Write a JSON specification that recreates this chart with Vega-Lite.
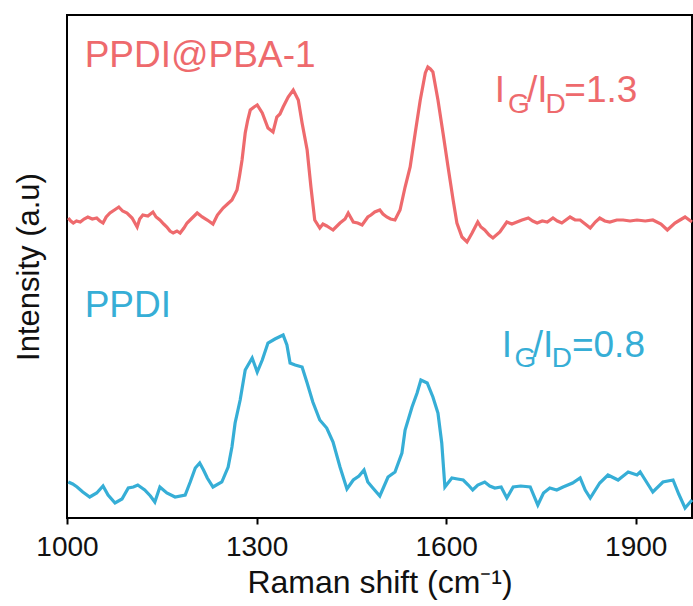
{
  "$schema": "https://vega.github.io/schema/vega-lite/v6.json",
  "width": 625,
  "height": 503,
  "autosize": {"type": "none"},
  "padding": {"left": 67, "top": 15, "right": 1, "bottom": 88},
  "config": {
    "view": {"stroke": "black", "strokeWidth": 2},
    "font": "Liberation Sans"
  },
  "datasets": {
    "spectra": [
      {"sample": "PPDI@PBA-1", "shift": 1002, "intensity": 300},
      {"sample": "PPDI@PBA-1", "shift": 1006, "intensity": 297},
      {"sample": "PPDI@PBA-1", "shift": 1010, "intensity": 295},
      {"sample": "PPDI@PBA-1", "shift": 1015, "intensity": 297},
      {"sample": "PPDI@PBA-1", "shift": 1021, "intensity": 296},
      {"sample": "PPDI@PBA-1", "shift": 1027, "intensity": 299},
      {"sample": "PPDI@PBA-1", "shift": 1033, "intensity": 301},
      {"sample": "PPDI@PBA-1", "shift": 1040, "intensity": 299},
      {"sample": "PPDI@PBA-1", "shift": 1047, "intensity": 300},
      {"sample": "PPDI@PBA-1", "shift": 1052, "intensity": 297},
      {"sample": "PPDI@PBA-1", "shift": 1057, "intensity": 295},
      {"sample": "PPDI@PBA-1", "shift": 1062, "intensity": 301},
      {"sample": "PPDI@PBA-1", "shift": 1068, "intensity": 305},
      {"sample": "PPDI@PBA-1", "shift": 1075, "intensity": 308},
      {"sample": "PPDI@PBA-1", "shift": 1082, "intensity": 311},
      {"sample": "PPDI@PBA-1", "shift": 1088, "intensity": 307},
      {"sample": "PPDI@PBA-1", "shift": 1095, "intensity": 305},
      {"sample": "PPDI@PBA-1", "shift": 1103, "intensity": 300},
      {"sample": "PPDI@PBA-1", "shift": 1111, "intensity": 291},
      {"sample": "PPDI@PBA-1", "shift": 1115, "intensity": 299},
      {"sample": "PPDI@PBA-1", "shift": 1120, "intensity": 303},
      {"sample": "PPDI@PBA-1", "shift": 1128, "intensity": 302},
      {"sample": "PPDI@PBA-1", "shift": 1136, "intensity": 306},
      {"sample": "PPDI@PBA-1", "shift": 1141, "intensity": 301},
      {"sample": "PPDI@PBA-1", "shift": 1147, "intensity": 298},
      {"sample": "PPDI@PBA-1", "shift": 1153, "intensity": 294},
      {"sample": "PPDI@PBA-1", "shift": 1158, "intensity": 291},
      {"sample": "PPDI@PBA-1", "shift": 1163, "intensity": 287},
      {"sample": "PPDI@PBA-1", "shift": 1168, "intensity": 285},
      {"sample": "PPDI@PBA-1", "shift": 1174, "intensity": 287},
      {"sample": "PPDI@PBA-1", "shift": 1179, "intensity": 285},
      {"sample": "PPDI@PBA-1", "shift": 1185, "intensity": 290},
      {"sample": "PPDI@PBA-1", "shift": 1190, "intensity": 295},
      {"sample": "PPDI@PBA-1", "shift": 1198, "intensity": 300},
      {"sample": "PPDI@PBA-1", "shift": 1206, "intensity": 305},
      {"sample": "PPDI@PBA-1", "shift": 1214, "intensity": 301},
      {"sample": "PPDI@PBA-1", "shift": 1222, "intensity": 298},
      {"sample": "PPDI@PBA-1", "shift": 1231, "intensity": 294},
      {"sample": "PPDI@PBA-1", "shift": 1238, "intensity": 303},
      {"sample": "PPDI@PBA-1", "shift": 1247, "intensity": 310},
      {"sample": "PPDI@PBA-1", "shift": 1254, "intensity": 314},
      {"sample": "PPDI@PBA-1", "shift": 1261, "intensity": 318},
      {"sample": "PPDI@PBA-1", "shift": 1269, "intensity": 328},
      {"sample": "PPDI@PBA-1", "shift": 1273, "intensity": 342},
      {"sample": "PPDI@PBA-1", "shift": 1277, "intensity": 358},
      {"sample": "PPDI@PBA-1", "shift": 1282, "intensity": 385},
      {"sample": "PPDI@PBA-1", "shift": 1286, "intensity": 398},
      {"sample": "PPDI@PBA-1", "shift": 1290, "intensity": 408},
      {"sample": "PPDI@PBA-1", "shift": 1296, "intensity": 411},
      {"sample": "PPDI@PBA-1", "shift": 1301, "intensity": 413},
      {"sample": "PPDI@PBA-1", "shift": 1309, "intensity": 405},
      {"sample": "PPDI@PBA-1", "shift": 1318, "intensity": 390},
      {"sample": "PPDI@PBA-1", "shift": 1326, "intensity": 386},
      {"sample": "PPDI@PBA-1", "shift": 1332, "intensity": 401},
      {"sample": "PPDI@PBA-1", "shift": 1337, "intensity": 404},
      {"sample": "PPDI@PBA-1", "shift": 1342, "intensity": 411},
      {"sample": "PPDI@PBA-1", "shift": 1350, "intensity": 421},
      {"sample": "PPDI@PBA-1", "shift": 1358, "intensity": 428},
      {"sample": "PPDI@PBA-1", "shift": 1366, "intensity": 418},
      {"sample": "PPDI@PBA-1", "shift": 1372, "intensity": 395},
      {"sample": "PPDI@PBA-1", "shift": 1380, "intensity": 368},
      {"sample": "PPDI@PBA-1", "shift": 1386, "intensity": 331},
      {"sample": "PPDI@PBA-1", "shift": 1392, "intensity": 298},
      {"sample": "PPDI@PBA-1", "shift": 1400, "intensity": 290},
      {"sample": "PPDI@PBA-1", "shift": 1405, "intensity": 294},
      {"sample": "PPDI@PBA-1", "shift": 1411, "intensity": 292},
      {"sample": "PPDI@PBA-1", "shift": 1416, "intensity": 290},
      {"sample": "PPDI@PBA-1", "shift": 1421, "intensity": 288},
      {"sample": "PPDI@PBA-1", "shift": 1432, "intensity": 295},
      {"sample": "PPDI@PBA-1", "shift": 1440, "intensity": 299},
      {"sample": "PPDI@PBA-1", "shift": 1445, "intensity": 305},
      {"sample": "PPDI@PBA-1", "shift": 1453, "intensity": 296},
      {"sample": "PPDI@PBA-1", "shift": 1460, "intensity": 295},
      {"sample": "PPDI@PBA-1", "shift": 1467, "intensity": 293},
      {"sample": "PPDI@PBA-1", "shift": 1476, "intensity": 301},
      {"sample": "PPDI@PBA-1", "shift": 1481, "intensity": 303},
      {"sample": "PPDI@PBA-1", "shift": 1487, "intensity": 306},
      {"sample": "PPDI@PBA-1", "shift": 1495, "intensity": 308},
      {"sample": "PPDI@PBA-1", "shift": 1500, "intensity": 304},
      {"sample": "PPDI@PBA-1", "shift": 1506, "intensity": 301},
      {"sample": "PPDI@PBA-1", "shift": 1512, "intensity": 299},
      {"sample": "PPDI@PBA-1", "shift": 1519, "intensity": 298},
      {"sample": "PPDI@PBA-1", "shift": 1527, "intensity": 308},
      {"sample": "PPDI@PBA-1", "shift": 1535, "intensity": 331},
      {"sample": "PPDI@PBA-1", "shift": 1543, "intensity": 351},
      {"sample": "PPDI@PBA-1", "shift": 1551, "intensity": 385},
      {"sample": "PPDI@PBA-1", "shift": 1559, "intensity": 418},
      {"sample": "PPDI@PBA-1", "shift": 1567, "intensity": 445},
      {"sample": "PPDI@PBA-1", "shift": 1571, "intensity": 451},
      {"sample": "PPDI@PBA-1", "shift": 1575, "intensity": 449},
      {"sample": "PPDI@PBA-1", "shift": 1579, "intensity": 446},
      {"sample": "PPDI@PBA-1", "shift": 1587, "intensity": 418},
      {"sample": "PPDI@PBA-1", "shift": 1595, "intensity": 385},
      {"sample": "PPDI@PBA-1", "shift": 1603, "intensity": 351},
      {"sample": "PPDI@PBA-1", "shift": 1611, "intensity": 318},
      {"sample": "PPDI@PBA-1", "shift": 1617, "intensity": 295},
      {"sample": "PPDI@PBA-1", "shift": 1625, "intensity": 281},
      {"sample": "PPDI@PBA-1", "shift": 1633, "intensity": 276},
      {"sample": "PPDI@PBA-1", "shift": 1641, "intensity": 285},
      {"sample": "PPDI@PBA-1", "shift": 1650, "intensity": 296},
      {"sample": "PPDI@PBA-1", "shift": 1655, "intensity": 291},
      {"sample": "PPDI@PBA-1", "shift": 1661, "intensity": 288},
      {"sample": "PPDI@PBA-1", "shift": 1668, "intensity": 283},
      {"sample": "PPDI@PBA-1", "shift": 1674, "intensity": 280},
      {"sample": "PPDI@PBA-1", "shift": 1685, "intensity": 286},
      {"sample": "PPDI@PBA-1", "shift": 1696, "intensity": 296},
      {"sample": "PPDI@PBA-1", "shift": 1704, "intensity": 294},
      {"sample": "PPDI@PBA-1", "shift": 1712, "intensity": 296},
      {"sample": "PPDI@PBA-1", "shift": 1720, "intensity": 298},
      {"sample": "PPDI@PBA-1", "shift": 1730, "intensity": 300},
      {"sample": "PPDI@PBA-1", "shift": 1737, "intensity": 297},
      {"sample": "PPDI@PBA-1", "shift": 1744, "intensity": 295},
      {"sample": "PPDI@PBA-1", "shift": 1752, "intensity": 297},
      {"sample": "PPDI@PBA-1", "shift": 1760, "intensity": 296},
      {"sample": "PPDI@PBA-1", "shift": 1769, "intensity": 300},
      {"sample": "PPDI@PBA-1", "shift": 1776, "intensity": 297},
      {"sample": "PPDI@PBA-1", "shift": 1783, "intensity": 295},
      {"sample": "PPDI@PBA-1", "shift": 1796, "intensity": 301},
      {"sample": "PPDI@PBA-1", "shift": 1804, "intensity": 298},
      {"sample": "PPDI@PBA-1", "shift": 1812, "intensity": 298},
      {"sample": "PPDI@PBA-1", "shift": 1820, "intensity": 294},
      {"sample": "PPDI@PBA-1", "shift": 1828, "intensity": 290},
      {"sample": "PPDI@PBA-1", "shift": 1836, "intensity": 296},
      {"sample": "PPDI@PBA-1", "shift": 1843, "intensity": 300},
      {"sample": "PPDI@PBA-1", "shift": 1851, "intensity": 297},
      {"sample": "PPDI@PBA-1", "shift": 1859, "intensity": 296},
      {"sample": "PPDI@PBA-1", "shift": 1870, "intensity": 298},
      {"sample": "PPDI@PBA-1", "shift": 1880, "intensity": 298},
      {"sample": "PPDI@PBA-1", "shift": 1891, "intensity": 297},
      {"sample": "PPDI@PBA-1", "shift": 1902, "intensity": 298},
      {"sample": "PPDI@PBA-1", "shift": 1915, "intensity": 297},
      {"sample": "PPDI@PBA-1", "shift": 1927, "intensity": 298},
      {"sample": "PPDI@PBA-1", "shift": 1940, "intensity": 294},
      {"sample": "PPDI@PBA-1", "shift": 1950, "intensity": 288},
      {"sample": "PPDI@PBA-1", "shift": 1962, "intensity": 295},
      {"sample": "PPDI@PBA-1", "shift": 1970, "intensity": 298},
      {"sample": "PPDI@PBA-1", "shift": 1978, "intensity": 301},
      {"sample": "PPDI@PBA-1", "shift": 1989, "intensity": 296},

      {"sample": "PPDI", "shift": 1002, "intensity": 36},
      {"sample": "PPDI", "shift": 1009, "intensity": 34},
      {"sample": "PPDI", "shift": 1016, "intensity": 31},
      {"sample": "PPDI", "shift": 1025, "intensity": 26},
      {"sample": "PPDI", "shift": 1036, "intensity": 21},
      {"sample": "PPDI", "shift": 1047, "intensity": 25},
      {"sample": "PPDI", "shift": 1057, "intensity": 32},
      {"sample": "PPDI", "shift": 1065, "intensity": 23},
      {"sample": "PPDI", "shift": 1076, "intensity": 15},
      {"sample": "PPDI", "shift": 1087, "intensity": 19},
      {"sample": "PPDI", "shift": 1097, "intensity": 30},
      {"sample": "PPDI", "shift": 1105, "intensity": 31},
      {"sample": "PPDI", "shift": 1112, "intensity": 33},
      {"sample": "PPDI", "shift": 1123, "intensity": 28},
      {"sample": "PPDI", "shift": 1132, "intensity": 22},
      {"sample": "PPDI", "shift": 1139, "intensity": 16},
      {"sample": "PPDI", "shift": 1147, "intensity": 31},
      {"sample": "PPDI", "shift": 1158, "intensity": 25},
      {"sample": "PPDI", "shift": 1171, "intensity": 21},
      {"sample": "PPDI", "shift": 1187, "intensity": 23},
      {"sample": "PPDI", "shift": 1195, "intensity": 36},
      {"sample": "PPDI", "shift": 1203, "intensity": 50},
      {"sample": "PPDI", "shift": 1210, "intensity": 55},
      {"sample": "PPDI", "shift": 1216, "intensity": 48},
      {"sample": "PPDI", "shift": 1222, "intensity": 40},
      {"sample": "PPDI", "shift": 1231, "intensity": 31},
      {"sample": "PPDI", "shift": 1245, "intensity": 36},
      {"sample": "PPDI", "shift": 1255, "intensity": 51},
      {"sample": "PPDI", "shift": 1261, "intensity": 71},
      {"sample": "PPDI", "shift": 1266, "intensity": 95},
      {"sample": "PPDI", "shift": 1274, "intensity": 118},
      {"sample": "PPDI", "shift": 1282, "intensity": 148},
      {"sample": "PPDI", "shift": 1293, "intensity": 160},
      {"sample": "PPDI", "shift": 1301, "intensity": 146},
      {"sample": "PPDI", "shift": 1309, "intensity": 158},
      {"sample": "PPDI", "shift": 1318, "intensity": 175},
      {"sample": "PPDI", "shift": 1329, "intensity": 179},
      {"sample": "PPDI", "shift": 1342, "intensity": 183},
      {"sample": "PPDI", "shift": 1348, "intensity": 173},
      {"sample": "PPDI", "shift": 1353, "intensity": 155},
      {"sample": "PPDI", "shift": 1361, "intensity": 153},
      {"sample": "PPDI", "shift": 1372, "intensity": 151},
      {"sample": "PPDI", "shift": 1380, "intensity": 135},
      {"sample": "PPDI", "shift": 1389, "intensity": 116},
      {"sample": "PPDI", "shift": 1400, "intensity": 98},
      {"sample": "PPDI", "shift": 1411, "intensity": 90},
      {"sample": "PPDI", "shift": 1421, "intensity": 76},
      {"sample": "PPDI", "shift": 1432, "intensity": 51},
      {"sample": "PPDI", "shift": 1443, "intensity": 29},
      {"sample": "PPDI", "shift": 1453, "intensity": 38},
      {"sample": "PPDI", "shift": 1462, "intensity": 42},
      {"sample": "PPDI", "shift": 1470, "intensity": 48},
      {"sample": "PPDI", "shift": 1476, "intensity": 36},
      {"sample": "PPDI", "shift": 1484, "intensity": 30},
      {"sample": "PPDI", "shift": 1495, "intensity": 22},
      {"sample": "PPDI", "shift": 1508, "intensity": 41},
      {"sample": "PPDI", "shift": 1519, "intensity": 46},
      {"sample": "PPDI", "shift": 1530, "intensity": 65},
      {"sample": "PPDI", "shift": 1535, "intensity": 88},
      {"sample": "PPDI", "shift": 1546, "intensity": 111},
      {"sample": "PPDI", "shift": 1554, "intensity": 125},
      {"sample": "PPDI", "shift": 1560, "intensity": 138},
      {"sample": "PPDI", "shift": 1570, "intensity": 135},
      {"sample": "PPDI", "shift": 1579, "intensity": 121},
      {"sample": "PPDI", "shift": 1587, "intensity": 105},
      {"sample": "PPDI", "shift": 1593, "intensity": 75},
      {"sample": "PPDI", "shift": 1598, "intensity": 31},
      {"sample": "PPDI", "shift": 1609, "intensity": 40},
      {"sample": "PPDI", "shift": 1618, "intensity": 39},
      {"sample": "PPDI", "shift": 1627, "intensity": 38},
      {"sample": "PPDI", "shift": 1635, "intensity": 33},
      {"sample": "PPDI", "shift": 1642, "intensity": 28},
      {"sample": "PPDI", "shift": 1650, "intensity": 33},
      {"sample": "PPDI", "shift": 1661, "intensity": 36},
      {"sample": "PPDI", "shift": 1669, "intensity": 32},
      {"sample": "PPDI", "shift": 1677, "intensity": 30},
      {"sample": "PPDI", "shift": 1687, "intensity": 31},
      {"sample": "PPDI", "shift": 1696, "intensity": 20},
      {"sample": "PPDI", "shift": 1706, "intensity": 31},
      {"sample": "PPDI", "shift": 1718, "intensity": 32},
      {"sample": "PPDI", "shift": 1733, "intensity": 31},
      {"sample": "PPDI", "shift": 1745, "intensity": 13},
      {"sample": "PPDI", "shift": 1754, "intensity": 25},
      {"sample": "PPDI", "shift": 1764, "intensity": 30},
      {"sample": "PPDI", "shift": 1775, "intensity": 28},
      {"sample": "PPDI", "shift": 1785, "intensity": 31},
      {"sample": "PPDI", "shift": 1800, "intensity": 35},
      {"sample": "PPDI", "shift": 1812, "intensity": 40},
      {"sample": "PPDI", "shift": 1820, "intensity": 28},
      {"sample": "PPDI", "shift": 1828, "intensity": 20},
      {"sample": "PPDI", "shift": 1843, "intensity": 35},
      {"sample": "PPDI", "shift": 1856, "intensity": 43},
      {"sample": "PPDI", "shift": 1872, "intensity": 38},
      {"sample": "PPDI", "shift": 1888, "intensity": 46},
      {"sample": "PPDI", "shift": 1902, "intensity": 43},
      {"sample": "PPDI", "shift": 1907, "intensity": 46},
      {"sample": "PPDI", "shift": 1918, "intensity": 35},
      {"sample": "PPDI", "shift": 1927, "intensity": 26},
      {"sample": "PPDI", "shift": 1943, "intensity": 36},
      {"sample": "PPDI", "shift": 1959, "intensity": 38},
      {"sample": "PPDI", "shift": 1968, "intensity": 24},
      {"sample": "PPDI", "shift": 1978, "intensity": 10},
      {"sample": "PPDI", "shift": 1989, "intensity": 18}
    ],
    "labels": [
      {"sample": "PPDI@PBA-1", "role": "main", "shift": 1028, "intensity": 451, "text": "PPDI@PBA-1"},
      {"sample": "PPDI@PBA-1", "role": "main", "shift": 1677, "intensity": 416, "text": "I"},
      {"sample": "PPDI@PBA-1", "role": "sub", "shift": 1698, "intensity": 405, "text": "G"},
      {"sample": "PPDI@PBA-1", "role": "main", "shift": 1728, "intensity": 416, "text": "/I"},
      {"sample": "PPDI@PBA-1", "role": "sub", "shift": 1757, "intensity": 405, "text": "D"},
      {"sample": "PPDI@PBA-1", "role": "main", "shift": 1787, "intensity": 416, "text": "=1.3"},
      {"sample": "PPDI", "role": "main", "shift": 1028, "intensity": 201, "text": "PPDI"},
      {"sample": "PPDI", "role": "main", "shift": 1688, "intensity": 161, "text": "I"},
      {"sample": "PPDI", "role": "sub", "shift": 1708, "intensity": 151, "text": "G"},
      {"sample": "PPDI", "role": "main", "shift": 1737, "intensity": 161, "text": "/I"},
      {"sample": "PPDI", "role": "sub", "shift": 1767, "intensity": 151, "text": "D"},
      {"sample": "PPDI", "role": "main", "shift": 1799, "intensity": 161, "text": "=0.8"}
    ]
  },
  "layer": [
    {
      "data": {"name": "spectra"},
      "mark": {"type": "line", "strokeWidth": 3.2, "interpolate": "linear"},
      "encoding": {
        "x": {
          "field": "shift", "type": "quantitative",
          "scale": {"domain": [1000, 1989], "nice": false, "zero": false},
          "axis": {
            "title": "Raman shift (cm⁻¹)",
            "values": [1000, 1300, 1600, 1900],
            "format": "d",
            "grid": false, "domain": false,
            "ticks": true, "tickSize": 6, "tickWidth": 2, "tickColor": "black",
            "labelFontSize": 28, "labelColor": "#111", "labelPadding": 9, "labelFont": "Liberation Sans",
            "labelFlush": false,
            "titleFontSize": 32, "titleFontWeight": "normal", "titleColor": "#111", "titlePadding": 6, "titleFont": "Liberation Sans"
          }
        },
        "y": {
          "field": "intensity", "type": "quantitative",
          "scale": {"domain": [0, 503], "nice": false, "zero": false},
          "axis": {
            "title": "Intensity (a.u)",
            "labels": false, "ticks": false, "domain": false, "grid": false,
            "minExtent": 0,
            "titleFontSize": 31, "titleFontWeight": "normal", "titleColor": "#111",
            "titleBaseline": "alphabetic", "titlePadding": 29, "titleFont": "Liberation Sans"
          }
        },
        "color": {
          "field": "sample", "type": "nominal",
          "scale": {"domain": ["PPDI@PBA-1", "PPDI"], "range": ["#EE6A6D", "#36AED6"]},
          "legend": null
        }
      }
    },
    {
      "mark": {"type": "rule", "color": "black", "strokeWidth": 2},
      "encoding": {"y": {"datum": 251}}
    },
    {
      "data": {"name": "labels"},
      "transform": [{"filter": "datum.role === 'main'"}],
      "mark": {"type": "text", "fontSize": 37, "align": "left", "baseline": "alphabetic", "font": "Liberation Sans"},
      "encoding": {
        "x": {"field": "shift", "type": "quantitative"},
        "y": {"field": "intensity", "type": "quantitative"},
        "text": {"field": "text"},
        "color": {"field": "sample", "type": "nominal", "legend": null}
      }
    },
    {
      "data": {"name": "labels"},
      "transform": [{"filter": "datum.role === 'sub'"}],
      "mark": {"type": "text", "fontSize": 28, "align": "left", "baseline": "alphabetic", "font": "Liberation Sans"},
      "encoding": {
        "x": {"field": "shift", "type": "quantitative"},
        "y": {"field": "intensity", "type": "quantitative"},
        "text": {"field": "text"},
        "color": {"field": "sample", "type": "nominal", "legend": null}
      }
    }
  ]
}
